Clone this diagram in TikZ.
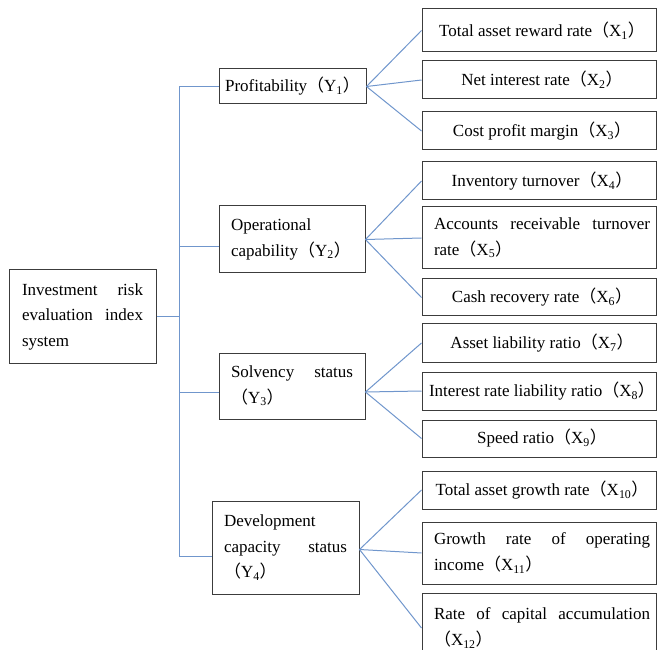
\documentclass[tikz,border=0pt]{standalone}
\usepackage{fontspec}
\setmainfont{Liberation Serif}
\newfontfamily\cjk{Noto Sans CJK SC}
\newcommand\lp{{\cjk （}}
\newcommand\rp{{\cjk ）}}
\newcommand\xc[1]{\hspace*{12pt}\makebox[216pt]{#1}\hspace*{6pt}}
\newcommand\xj[1]{\hspace*{12pt}\parbox{216pt}{#1}\hspace*{6pt}}
\definecolor{boxgray}{RGB}{60,60,60}
\definecolor{lineblue}{RGB}{112,150,204}
\tikzset{
  bx/.style={draw=boxgray, line width=1pt, inner ysep=0pt, anchor=center,
    font=\fontsize{17}{25.5}\selectfont},
  ybx/.style={bx, inner xsep=12pt, minimum width=#1},
  xbx/.style={bx, inner xsep=0pt, minimum width=234pt, minimum height=#1},
  ln/.style={draw=lineblue, line width=1pt},
}
\begin{document}
\begin{tikzpicture}[x=1pt,y=-1pt]
\useasboundingbox (0,0) rectangle (657,650);
\clip (0,0) rectangle (657,650);
% root
\node[bx, inner xsep=13pt, minimum width=147pt, minimum height=93pt] (root) at (82.5,316.5)
  {\parbox{121pt}{Investment risk\linebreak evaluation index\linebreak system}};
% level Y
\node[bx, inner xsep=0pt, minimum width=147pt, minimum height=35pt] (Y1) at (292.5,86.5)
  {Profitability\lp Y\textsubscript{1}\rp};
\node[ybx=146pt, minimum height=67pt] (Y2) at (292,239.5)
  {\parbox{122pt}{Operational\linebreak capability\lp Y\textsubscript{2}\rp}};
\node[ybx=146pt, minimum height=66pt] (Y3) at (292,386)
  {\parbox{122pt}{Solvency status\linebreak\lp Y\textsubscript{3}\rp}};
\node[ybx=147pt, minimum height=93pt] (Y4) at (285.5,547.5)
  {\parbox{123pt}{Development\linebreak capacity status\linebreak\lp Y\textsubscript{4}\rp}};
% level X
\node[xbx=43pt] (X1) at (539,30.5) {\xc{Total asset reward rate\lp X\textsubscript{1}\rp}};
\node[xbx=38pt] (X2) at (539,80) {\xc{Net interest rate\lp X\textsubscript{2}\rp}};
\node[xbx=38pt] (X3) at (539,131) {\xc{Cost profit margin\lp X\textsubscript{3}\rp}};
\node[xbx=38pt] (X4) at (539,181) {\xc{Inventory turnover\lp X\textsubscript{4}\rp}};
\node[xbx=62pt] (X5) at (539,238) {\xj{Accounts receivable turnover\linebreak rate\lp X\textsubscript{5}\rp}};
\node[xbx=37pt] (X6) at (539,297.5) {\xc{Cash recovery rate\lp X\textsubscript{6}\rp}};
\node[xbx=38pt] (X7) at (539,343) {\xc{Asset liability ratio\lp X\textsubscript{7}\rp}};
\node[xbx=38pt] (X8) at (539,391) {\xc{Interest rate liability ratio\lp X\textsubscript{8}\rp}};
\node[xbx=37pt] (X9) at (539,438.5) {\xc{Speed ratio\lp X\textsubscript{9}\rp}};
\node[xbx=38pt] (X10) at (539,490) {\xc{Total asset growth rate\lp X\textsubscript{10}\rp}};
\node[xbx=62pt] (X11) at (539,553) {\xj{Growth rate of operating\linebreak income\lp X\textsubscript{11}\rp}};
\node[xbx=70pt] (X12) at (539,628) {\xj{Rate of capital accumulation\linebreak\lp X\textsubscript{12}\rp}};
% trunk
\coordinate (tk) at (179,0);
\coordinate (y2l) at ([yshift=-7pt]Y2.west);
\coordinate (y3l) at ([yshift=-6pt]Y3.west);
\coordinate (y4l) at ([yshift=-9pt]Y4.west);
\coordinate (y3r) at ([yshift=-6pt]Y3.east);
\coordinate (y4r) at ([yshift=-2pt]Y4.east);
\draw[ln] (root.east) -- (root.east -| tk);
\draw[ln] (Y1.west) -- (Y1.west -| tk) -- (y4l -| tk) -- (y4l);
\draw[ln] (y2l -| tk) -- (y2l);
\draw[ln] (y3l -| tk) -- (y3l);
% fans
\draw[ln] (X1.west) -- (Y1.east) -- (X3.west);
\draw[ln] (Y1.east) -- (X2.west);
\draw[ln] (X4.west) -- (Y2.east) -- (X6.west);
\draw[ln] (Y2.east) -- (X5.west);
\draw[ln] (X7.west) -- (y3r) -- (X9.west);
\draw[ln] (y3r) -- (X8.west);
\draw[ln] (X10.west) -- (y4r) -- (X12.west);
\draw[ln] (y4r) -- (X11.west);
\end{tikzpicture}
\end{document}
